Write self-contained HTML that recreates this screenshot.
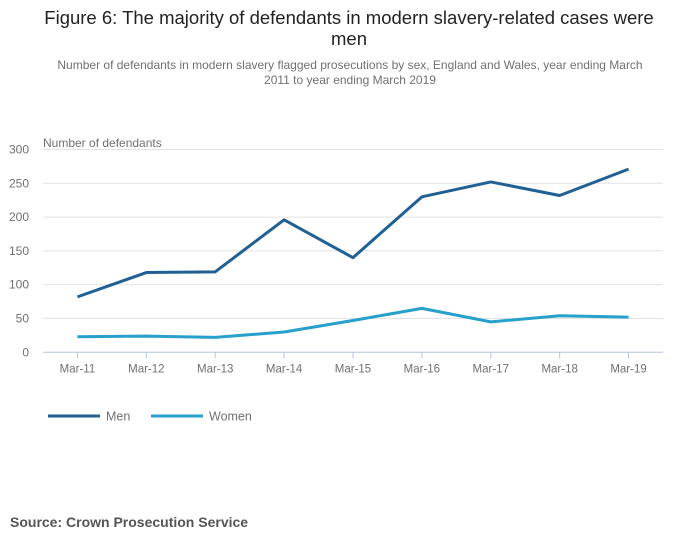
<!DOCTYPE html>
<html><head><meta charset="utf-8"><style>
body{margin:0;background:#fff;font-family:"Liberation Sans",sans-serif;}
svg text{font-family:"Liberation Sans",sans-serif;}
</style></head><body>
<svg width="700" height="549">
<text x="349" y="24" text-anchor="middle" font-size="18.5" fill="#222">Figure 6: The majority of defendants in modern slavery-related cases were</text>
<text x="349" y="45" text-anchor="middle" font-size="18.5" fill="#222">men</text>
<text x="350" y="69" text-anchor="middle" font-size="12" fill="#707070">Number of defendants in modern slavery flagged prosecutions by sex, England and Wales, year ending March</text>
<text x="350" y="84" text-anchor="middle" font-size="12" fill="#707070">2011 to year ending March 2019</text>
<text x="43" y="147" font-size="12" fill="#707070">Number of defendants</text>
<g id="grid"></g><g id="xaxis"></g><g id="lines"></g>
<g>
<line x1="48" y1="416" x2="100" y2="416" stroke="#206095" stroke-width="3"/>
<text x="106" y="420.5" font-size="12.5" fill="#707070">Men</text>
<line x1="151" y1="416" x2="203" y2="416" stroke="#27a0cc" stroke-width="3"/>
<text x="209" y="420.5" font-size="12.5" fill="#707070">Women</text>
</g>
<text x="10" y="527" font-size="14" font-weight="bold" fill="#555">Source: Crown Prosecution Service</text>
</svg>
<script>
const categories=["Mar-11","Mar-12","Mar-13","Mar-14","Mar-15","Mar-16","Mar-17","Mar-18","Mar-19"];
const men=[82,118,119,196,140,230,252,232,271];
const women=[23,24,22,30,47,65,45,54,52];
const yTicks=[0,50,100,150,200,250,300];
const NS="http://www.w3.org/2000/svg";
const L=43,R=663,T=149.5,B=352.3,yMax=300;
const bw=(R-L)/categories.length;
const x=i=>L+bw*(i+0.5);
const y=v=>B-(v/yMax)*(B-T);
function mk(t,a,p){const e=document.createElementNS(NS,t);for(const k in a)e.setAttribute(k,a[k]);p.appendChild(e);return e;}
const g=document.getElementById('grid');
yTicks.forEach(v=>{
 const ln=mk('line',{x1:L,x2:R,y1:y(v),y2:y(v),stroke:v===0?'#b3c6dc':'#e2e2e2','stroke-width':1},g);
 
 
 const t=mk('text',{x:29,y:y(v)+4,'text-anchor':'end','font-size':12,fill:'#707070'},g);
 t.textContent=v;
 
 
});
const xa=document.getElementById('xaxis');
categories.forEach((c,i)=>{
 const tk=mk('line',{x1:x(i),x2:x(i),y1:B,y2:B+6,stroke:'#b3c6dc'},xa);
 
 
 const t=mk('text',{x:x(i),y:B+20,'text-anchor':'middle','font-size':11.5,fill:'#707070'},xa);
 t.textContent=c;
 
 
});
const lg=document.getElementById('lines');
[[men,'#206095','line-men'],[women,'#27a0cc','line-women']].forEach(([d,col,n])=>{
 const p=mk('path',{d:d.map((v,i)=>(i?'L':'M')+x(i)+' '+y(v)).join(''),fill:'none',stroke:col,'stroke-width':3,'stroke-linejoin':'round'},lg);
 
 
});
</script>
</body></html>
